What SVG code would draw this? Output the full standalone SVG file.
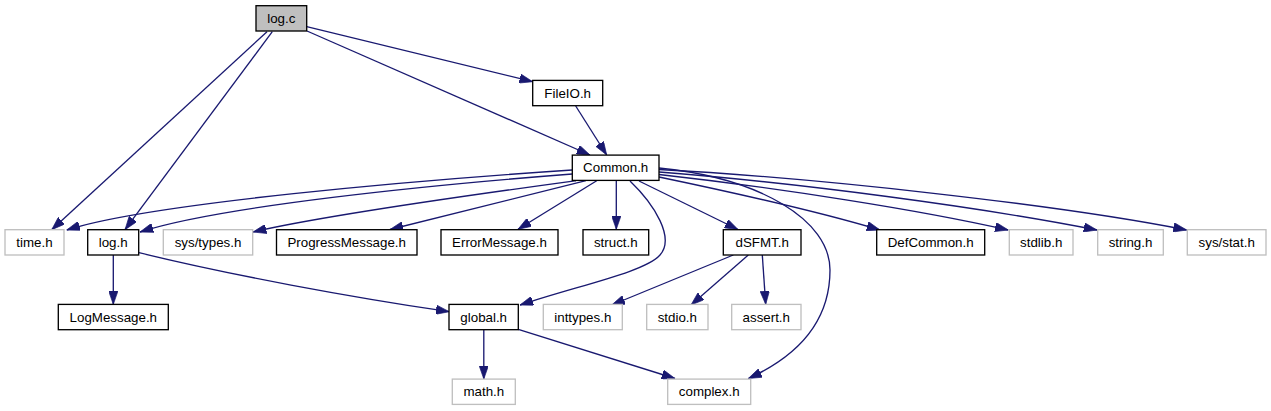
<svg xmlns="http://www.w3.org/2000/svg" width="1271" height="411" viewBox="0 0 1271 411">
<defs>
<marker id="arr" viewBox="0 0 10 7" refX="10" refY="3.5" markerWidth="13.3" markerHeight="9.3" markerUnits="userSpaceOnUse" orient="auto">
<path d="M0,0 L10,3.5 L0,7 Z" fill="#191970" stroke="#191970" stroke-width="0.5"/>
</marker>
</defs>
<style>
.n rect{fill:#ffffff;stroke:#000000;stroke-width:1.33}
.g rect{fill:#ffffff;stroke:#bfbfbf;stroke-width:1.33}
.cur rect{fill:#bfbfbf;stroke:#000000;stroke-width:1.33}
text{font-family:"Liberation Sans",Arial,sans-serif;font-size:13.33px;text-anchor:middle;fill:#000000}
#edges path{fill:none;stroke:#191970;stroke-width:1.33;marker-end:url(#arr)}
</style>
<rect width="1271" height="411" fill="#ffffff"/>
<g id="edges">
<path d="M306.7,26.7 L532.7,81.7"/>
<path d="M307,31 L590,155"/>
<path d="M267,31.7 L51.7,229.7"/>
<path d="M272.3,31.7 L125,229.7"/>
<path d="M575.7,106 L606.7,155"/>
<path d="M572.3,170 C420,180 150,203 66.7,230"/>
<path d="M572.3,174 C430,185 220,206 140,232"/>
<path d="M576,180.7 C500,191 330,214 253,232"/>
<path d="M586,180.7 L390,229.5"/>
<path d="M596.7,180.7 L518,229.3"/>
<path d="M616.3,180.7 L616.3,229.3"/>
<path d="M630,181 C655,205 675,238 660,255 C645,272 580,285 520,305"/>
<path d="M639,181 L738,229.5"/>
<path d="M659,168 C760,178 830,220 830,270 C830,320 800,355 748.3,378.5"/>
<path d="M659,177 C750,196 820,212 880,230"/>
<path d="M659,174.5 C780,188 920,210 1008.3,230"/>
<path d="M659,172 C800,183 980,207 1097,230"/>
<path d="M659,169.5 C820,178 1060,205 1186.7,230"/>
<path d="M733.3,255 L611.7,305"/>
<path d="M748.3,255 L691,305"/>
<path d="M762.3,255 L765.7,304.4"/>
<path d="M113.3,255 L113.3,304.4"/>
<path d="M139,252.7 C230,275 350,297 449.3,311.7"/>
<path d="M483.8,330 L483.8,379"/>
<path d="M518.3,329.3 L675,378.5"/>
</g>
<g id="log_c" class="cur"><rect x="256" y="5.7" width="50.7" height="25.3"/><text x="281.3" y="23">log.c</text></g>
<g id="FileIO_h" class="n"><rect x="532.7" y="80.4" width="70" height="25.3"/><text x="567.7" y="97.7">FileIO.h</text></g>
<g id="Common_h" class="n"><rect x="572.3" y="155.1" width="86.7" height="25.3"/><text x="615.7" y="172.4">Common.h</text></g>
<g id="time_h" class="g"><rect x="5" y="229.7" width="59" height="25.3"/><text x="34.5" y="247">time.h</text></g>
<g id="log_h" class="n"><rect x="87.7" y="229.7" width="51" height="25.3"/><text x="113.2" y="247">log.h</text></g>
<g id="sys_types_h" class="g"><rect x="163.3" y="229.7" width="89.4" height="25.3"/><text x="208" y="247">sys/types.h</text></g>
<g id="ProgressMessage_h" class="n"><rect x="276.5" y="229.7" width="140.5" height="25.3"/><text x="346.7" y="247">ProgressMessage.h</text></g>
<g id="ErrorMessage_h" class="n"><rect x="441" y="229.7" width="117" height="25.3"/><text x="499.5" y="247">ErrorMessage.h</text></g>
<g id="struct_h" class="n"><rect x="583" y="229.7" width="65.7" height="25.3"/><text x="615.8" y="247">struct.h</text></g>
<g id="dSFMT_h" class="n"><rect x="723.3" y="229.7" width="77.7" height="25.3"/><text x="762.2" y="247">dSFMT.h</text></g>
<g id="DefCommon_h" class="n"><rect x="876.7" y="229.7" width="108" height="25.3"/><text x="930.7" y="247">DefCommon.h</text></g>
<g id="stdlib_h" class="g"><rect x="1009.3" y="229.7" width="63.7" height="25.3"/><text x="1041.2" y="247">stdlib.h</text></g>
<g id="string_h" class="g"><rect x="1097.7" y="229.7" width="65.6" height="25.3"/><text x="1130.5" y="247">string.h</text></g>
<g id="sys_stat_h" class="g"><rect x="1187.3" y="229.7" width="78.7" height="25.3"/><text x="1226.7" y="247">sys/stat.h</text></g>
<g id="LogMessage_h" class="n"><rect x="58.3" y="304.4" width="110" height="25.3"/><text x="113.3" y="321.7">LogMessage.h</text></g>
<g id="global_h" class="n"><rect x="449" y="304.4" width="69.3" height="25.3"/><text x="483.7" y="321.7">global.h</text></g>
<g id="inttypes_h" class="g"><rect x="543.3" y="304.4" width="79" height="25.3"/><text x="582.8" y="321.7">inttypes.h</text></g>
<g id="stdio_h" class="g"><rect x="646.7" y="304.4" width="61.3" height="25.3"/><text x="677.3" y="321.7">stdio.h</text></g>
<g id="assert_h" class="g"><rect x="731.7" y="304.4" width="69.3" height="25.3"/><text x="766.3" y="321.7">assert.h</text></g>
<g id="math_h" class="g"><rect x="452.3" y="379.1" width="63" height="25.3"/><text x="483.8" y="396.4">math.h</text></g>
<g id="complex_h" class="g"><rect x="667.7" y="379.1" width="83" height="25.3"/><text x="709.2" y="396.4">complex.h</text></g>
</svg>
